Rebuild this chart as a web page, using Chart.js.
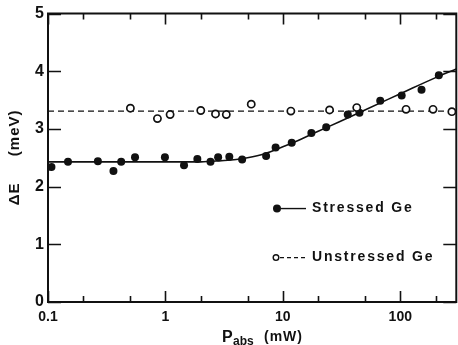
<!DOCTYPE html>
<html><head><meta charset="utf-8">
<script src="https://cdn.jsdelivr.net/npm/chart.js@4"></script>
<style>html,body{margin:0;padding:0;overflow:hidden;background:#fff}#wrap{width:462px;height:345px}</style>
</head><body><div id="wrap"><canvas id="c" width="462" height="345"></canvas></div>
<script>
// ---- data ----
const stressedX = [0.107, 0.148, 0.266, 0.361, 0.42, 0.551, 0.99, 1.44, 1.87, 2.42, 2.81, 3.5, 4.5, 7.2, 8.68, 11.9, 17.5, 23.4, 35.7, 44.9, 67.5, 102.8, 151.7, 213];
const stressedY = [2.34, 2.43, 2.44, 2.27, 2.43, 2.51, 2.51, 2.37, 2.48, 2.43, 2.51, 2.52, 2.47, 2.53, 2.68, 2.76, 2.93, 3.03, 3.25, 3.28, 3.49, 3.58, 3.68, 3.93];
const unstressedX = [0.503, 0.855, 1.096, 2.0, 2.67, 3.3, 5.38, 11.7, 25.0, 42.6, 112, 190, 275];
const unstressedY = [3.36, 3.18, 3.25, 3.32, 3.26, 3.25, 3.43, 3.31, 3.33, 3.37, 3.34, 3.34, 3.30];
const fitX = [0.1, 1, 2, 3, 4, 5, 7, 10, 13.5, 20, 30, 50, 100, 200, 300];
const fitY = [2.43, 2.43, 2.43, 2.45, 2.47, 2.50, 2.57, 2.69, 2.80, 2.96, 3.12, 3.33, 3.61, 3.89, 4.04];
const unstressedLevel = 3.31;
const xRange = [0.1, 300];
const yRange = [0, 5];
const xTicks = [0.1, 1, 10, 100];
const xTickLabels = ['0.1', '1', '10', '100'];
const xMinorTicks = [0.2, 0.5, 2, 5, 20, 50, 200];
const yTicks = [0, 1, 2, 3, 4, 5];
const legendLabels = ['Stressed Ge', 'Unstressed Ge'];

const INK = '#111';
const FAM = '"Liberation Sans", Arial, sans-serif';
const pts = (xs, ys) => xs.map((x, i) => ({x, y: ys[i]}));

const framePlugin = {
  id: 'frame',
  afterDraw(chart) {
    const ctx = chart.ctx, a = chart.chartArea, xs = chart.scales.x, ys = chart.scales.y;
    ctx.save();
    ctx.strokeStyle = INK; ctx.lineWidth = 2;
    ctx.beginPath();
    ctx.rect(a.left, a.top, a.right - a.left, a.bottom - a.top);
    ctx.stroke();
    ctx.lineWidth = 1.6;
    ctx.beginPath();
    xTicks.forEach(v => { const p = Math.round(xs.getPixelForValue(v)) + 0.5;
      ctx.moveTo(p, a.bottom); ctx.lineTo(p, a.bottom - 11);
      ctx.moveTo(p, a.top); ctx.lineTo(p, a.top + 11); });
    xMinorTicks.forEach(v => { const p = Math.round(xs.getPixelForValue(v)) + 0.5;
      ctx.moveTo(p, a.bottom); ctx.lineTo(p, a.bottom - 6);
      ctx.moveTo(p, a.top); ctx.lineTo(p, a.top + 6); });
    yTicks.forEach(v => { const p = Math.round(ys.getPixelForValue(v)) + 0.5;
      ctx.moveTo(a.left, p); ctx.lineTo(a.left + 13, p);
      ctx.moveTo(a.right, p); ctx.lineTo(a.right - 13, p); });
    ctx.stroke();

    // axis titles
    ctx.fillStyle = INK;
    ctx.letterSpacing = '1px';
    ctx.textBaseline = 'middle'; ctx.textAlign = 'center';
    ctx.save();
    ctx.translate(15, (a.top + a.bottom) / 2);
    ctx.rotate(-Math.PI / 2);
    ctx.font = 'bold 15px ' + FAM;
    ctx.fillText('ΔE', -36, 0);
    ctx.fillText('(meV)', 25, 0);
    ctx.restore();

    ctx.textAlign = 'left'; ctx.textBaseline = 'alphabetic';
    ctx.letterSpacing = '0px';
    ctx.font = 'bold 16px ' + FAM;
    ctx.fillText('P', 222, 342);
    ctx.font = 'bold 12px ' + FAM;
    ctx.fillText('abs', 233, 345);
    ctx.letterSpacing = '1px';
    ctx.font = 'bold 14px ' + FAM;
    ctx.fillText('(mW)', 264, 341);

    // legend
    const ly1 = ys.getPixelForValue(1.62), ly2 = ys.getPixelForValue(0.77);
    ctx.fillStyle = INK;
    ctx.beginPath(); ctx.arc(277, ly1, 4, 0, Math.PI * 2); ctx.fill();
    ctx.lineWidth = 1.4;
    ctx.beginPath(); ctx.moveTo(281, ly1); ctx.lineTo(306, ly1); ctx.stroke();
    ctx.beginPath(); ctx.arc(276, ly2, 2.8, 0, Math.PI * 2); ctx.fillStyle = '#fff'; ctx.fill(); ctx.stroke();
    ctx.setLineDash([4, 3]);
    ctx.beginPath(); ctx.moveTo(280, ly2); ctx.lineTo(307, ly2); ctx.stroke();
    ctx.setLineDash([]);
    ctx.fillStyle = INK;
    ctx.font = 'bold 14px ' + FAM;
    ctx.letterSpacing = '1.8px';
    ctx.textBaseline = 'middle';
    ctx.fillText(legendLabels[0], 312, ly1);
    ctx.fillText(legendLabels[1], 312, ly2);
    ctx.restore();
  }
};

new Chart(document.getElementById('c'), {
  type: 'scatter',
  data: {
    datasets: [
      { label: 'fit', data: pts(fitX, fitY), showLine: true, borderColor: INK, borderWidth: 1.6,
        pointRadius: 0, cubicInterpolationMode: 'monotone', order: 3 },
      { label: 'level', data: pts(xRange, [unstressedLevel, unstressedLevel]), showLine: true,
        borderColor: INK, borderWidth: 1.3, borderDash: [6, 4], pointRadius: 0, order: 4 },
      { label: legendLabels[0], data: pts(stressedX, stressedY), pointRadius: 4, pointBorderWidth: 0,
        backgroundColor: INK, borderColor: INK, order: 1 },
      { label: legendLabels[1], data: pts(unstressedX, unstressedY), pointRadius: 3.6, pointBorderWidth: 1.7,
        backgroundColor: '#fff', borderColor: INK, order: 0 }
    ]
  },
  options: {
    responsive: false, animation: false, devicePixelRatio: 1,
    layout: { padding: { top: 13, right: 3, left: 0, bottom: 0 } },
    plugins: { legend: { display: false }, tooltip: { enabled: false } },
    scales: {
      x: {
        type: 'logarithmic', min: xRange[0], max: xRange[1],
        grid: { display: false, drawTicks: false }, border: { display: false },
        afterBuildTicks: s => { s.ticks = xTicks.map(v => ({ value: v })); },
        afterFit: s => { s.height = 43; },
        ticks: { color: INK, padding: 7, maxRotation: 0, autoSkip: false,
          font: { family: FAM, size: 14, weight: 'bold' },
          callback: (v, i) => xTickLabels[i] }
      },
      y: {
        min: yRange[0], max: yRange[1],
        grid: { display: false, drawTicks: false }, border: { display: false },
        afterBuildTicks: s => { s.ticks = yTicks.map(v => ({ value: v })); },
        afterFit: s => { s.width = 48; },
        ticks: { color: INK, padding: 4,
          font: { family: FAM, size: 16, weight: 'bold' } }
      }
    }
  },
  plugins: [framePlugin]
});
</script></body></html>
